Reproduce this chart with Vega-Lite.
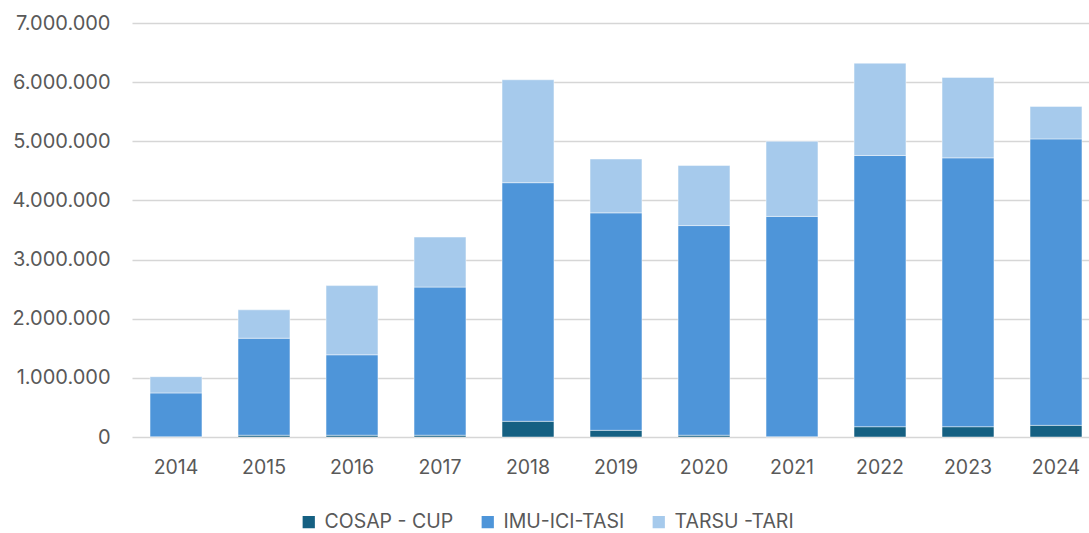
{
  "$schema": "https://vega.github.io/schema/vega-lite/v6.json",
  "width": 957,
  "height": 414,
  "autosize": {"type": "none"},
  "padding": {"left": 132, "top": 23, "right": 0, "bottom": 96},
  "background": "#ffffff",
  "config": {
    "view": {"stroke": null},
    "font": "Inter"
  },
  "data": {
    "values": [
      {"year": "2014", "series": "COSAP - CUP", "value": 5000},
      {"year": "2014", "series": "IMU-ICI-TASI", "value": 740000},
      {"year": "2014", "series": "TARSU -TARI", "value": 275000},
      {"year": "2015", "series": "COSAP - CUP", "value": 30000},
      {"year": "2015", "series": "IMU-ICI-TASI", "value": 1640000},
      {"year": "2015", "series": "TARSU -TARI", "value": 480000},
      {"year": "2016", "series": "COSAP - CUP", "value": 30000},
      {"year": "2016", "series": "IMU-ICI-TASI", "value": 1360000},
      {"year": "2016", "series": "TARSU -TARI", "value": 1170000},
      {"year": "2017", "series": "COSAP - CUP", "value": 30000},
      {"year": "2017", "series": "IMU-ICI-TASI", "value": 2505000},
      {"year": "2017", "series": "TARSU -TARI", "value": 845000},
      {"year": "2018", "series": "COSAP - CUP", "value": 265000},
      {"year": "2018", "series": "IMU-ICI-TASI", "value": 4035000},
      {"year": "2018", "series": "TARSU -TARI", "value": 1740000},
      {"year": "2019", "series": "COSAP - CUP", "value": 113000},
      {"year": "2019", "series": "IMU-ICI-TASI", "value": 3677000},
      {"year": "2019", "series": "TARSU -TARI", "value": 910000},
      {"year": "2020", "series": "COSAP - CUP", "value": 30000},
      {"year": "2020", "series": "IMU-ICI-TASI", "value": 3545000},
      {"year": "2020", "series": "TARSU -TARI", "value": 1015000},
      {"year": "2021", "series": "COSAP - CUP", "value": 5000},
      {"year": "2021", "series": "IMU-ICI-TASI", "value": 3725000},
      {"year": "2021", "series": "TARSU -TARI", "value": 1270000},
      {"year": "2022", "series": "COSAP - CUP", "value": 174000},
      {"year": "2022", "series": "IMU-ICI-TASI", "value": 4586000},
      {"year": "2022", "series": "TARSU -TARI", "value": 1560000},
      {"year": "2023", "series": "COSAP - CUP", "value": 174000},
      {"year": "2023", "series": "IMU-ICI-TASI", "value": 4546000},
      {"year": "2023", "series": "TARSU -TARI", "value": 1360000},
      {"year": "2024", "series": "COSAP - CUP", "value": 197000},
      {"year": "2024", "series": "IMU-ICI-TASI", "value": 4843000},
      {"year": "2024", "series": "TARSU -TARI", "value": 550000}
    ]
  },
  "mark": {"type": "bar", "stroke": "#ffffff", "strokeWidth": 0.75, "strokeOpacity": 0.6},
  "encoding": {
    "x": {
      "field": "year",
      "type": "ordinal",
      "scale": {"range": [0, 968], "paddingInner": 0.41, "paddingOuter": 0.205},
      "axis": {
        "title": null,
        "domain": false,
        "ticks": false,
        "labelAngle": 0,
        "labelFontSize": 19.5,
        "labelColor": "#595959",
        "labelPadding": 21
      }
    },
    "y": {
      "field": "value",
      "type": "quantitative",
      "stack": "zero",
      "scale": {"domain": [0, 7000000], "nice": false},
      "axis": {
        "title": null,
        "values": [0, 1000000, 2000000, 3000000, 4000000, 5000000, 6000000, 7000000],
        "labelExpr": "replace(format(datum.value, ','), /,/g, '.')",
        "domain": false,
        "ticks": false,
        "labelFontSize": 20,
        "labelColor": "#595959",
        "labelPadding": 22,
        "gridColor": "#D6D6D6",
        "gridWidth": 1.6
      }
    },
    "color": {
      "field": "series",
      "type": "nominal",
      "scale": {
        "domain": ["COSAP - CUP", "IMU-ICI-TASI", "TARSU -TARI"],
        "range": ["#156082", "#4E95D9", "#A6CAEC"]
      },
      "legend": {
        "title": null,
        "orient": "none",
        "direction": "horizontal",
        "legendX": 167,
        "legendY": 489,
        "symbolType": "square",
        "symbolSize": 150,
        "symbolStrokeWidth": 0,
        "labelFontSize": 19.5,
        "labelColor": "#595959",
        "columnPadding": 24,
        "labelOffset": 6
      }
    },
    "order": {"field": "series", "sort": "ascending"}
  }
}
